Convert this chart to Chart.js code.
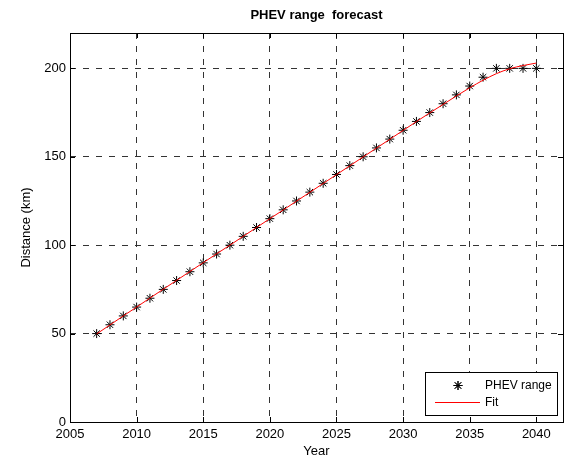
<!DOCTYPE html>
<html>
<head>
<meta charset="utf-8">
<script src="https://cdn.jsdelivr.net/npm/chart.js@4"></script>
<style>
  html, body { margin: 0; padding: 0; background: #fff; }
  #wrap { width: 577px; height: 463px; }
</style>
</head>
<body>
<div id="wrap"><canvas id="c" width="577" height="463"></canvas></div>
<script>
// Yearly PHEV range (km) and the fitted trend curve
const years = [2007, 2008, 2009, 2010, 2011, 2012, 2013, 2014, 2015, 2016, 2017, 2018,
  2019, 2020, 2021, 2022, 2023, 2024, 2025, 2026, 2027, 2028, 2029, 2030, 2031, 2032,
  2033, 2034, 2035, 2036, 2037, 2038, 2039, 2040];
const rangeKm = [50, 55, 60, 65, 70, 75, 80, 85, 90, 95, 100, 105, 110, 115, 120, 125,
  130, 135, 140, 145, 150, 155, 160, 165, 170, 175, 180, 185, 190, 195, 200, 200, 200, 200];
const fitKm = [49.8, 54.9, 60.0, 65.0, 70.1, 75.1, 80.1, 85.1, 90.1, 95.1, 100.0, 105.0,
  110.0, 115.0, 119.9, 124.9, 129.9, 134.9, 139.9, 144.9, 149.9, 154.9, 159.9, 164.9,
  169.9, 174.8, 179.6, 184.4, 189.0, 193.3, 197.0, 199.8, 201.6, 203.0];
const xTicks = [2005, 2010, 2015, 2020, 2025, 2030, 2035, 2040];
const yTicks = [0, 50, 100, 150, 200];

const FONT = "'Liberation Sans', Arial, Helvetica, sans-serif";
Chart.defaults.font.family = FONT;
Chart.defaults.color = '#000';

// Frame, inward tick marks, title and in-plot legend
const decorations = {
  id: 'decorations',
  afterDraw(chart) {
    const { ctx, chartArea: a, scales } = chart;
    ctx.save();
    // axes box
    ctx.strokeStyle = '#000';
    ctx.lineWidth = 1;
    ctx.setLineDash([]);
    ctx.strokeRect(Math.round(a.left) + 0.5, Math.round(a.top) + 0.5,
      Math.round(a.right - a.left), Math.round(a.bottom - a.top));
    // inward ticks on all four sides
    const tl = 5;
    ctx.beginPath();
    xTicks.forEach(v => {
      const x = Math.round(scales.x.getPixelForValue(v)) + 0.5;
      ctx.moveTo(x, a.bottom); ctx.lineTo(x, a.bottom - tl);
      ctx.moveTo(x, a.top); ctx.lineTo(x, a.top + tl);
    });
    yTicks.forEach(v => {
      const y = Math.round(scales.y.getPixelForValue(v)) + 0.5;
      ctx.moveTo(a.left, y); ctx.lineTo(a.left + tl, y);
      ctx.moveTo(a.right, y); ctx.lineTo(a.right - tl, y);
    });
    ctx.stroke();

    // title
    ctx.fillStyle = '#000';
    ctx.font = 'bold 13px ' + FONT;
    ctx.textAlign = 'center';
    ctx.textBaseline = 'middle';
    ctx.fillText('PHEV range  forecast', (a.left + a.right) / 2, 15.5);

    // legend box, lower right corner
    const ds = chart.data.datasets;
    const bx = a.right - 138, by = a.bottom - 50, bw = 132, bh = 43;
    ctx.fillStyle = '#fff';
    ctx.fillRect(bx, by, bw, bh);
    ctx.strokeStyle = '#000';
    ctx.strokeRect(Math.round(bx) + 0.5, Math.round(by) + 0.5, bw, bh);
    const row1 = by + 13.5, row2 = by + 30.5;
    Chart.helpers.drawPoint(ctx, {
      pointStyle: ds[0].pointStyle, radius: ds[0].pointRadius,
      borderWidth: ds[0].borderWidth, rotation: 0
    }, bx + 33, row1);
    ctx.strokeStyle = ds[0].borderColor;
    ctx.stroke();
    ctx.beginPath();
    ctx.strokeStyle = ds[1].borderColor;
    ctx.lineWidth = ds[1].borderWidth;
    ctx.moveTo(bx + 10, row2); ctx.lineTo(bx + 55, row2);
    ctx.stroke();
    ctx.fillStyle = '#000';
    ctx.font = '12px ' + FONT;
    ctx.textAlign = 'left';
    ctx.fillText(ds[0].label, bx + 60, row1);
    ctx.fillText(ds[1].label, bx + 60, row2);
    ctx.restore();
  }
};

new Chart(document.getElementById('c'), {
  type: 'scatter',
  data: {
    datasets: [
      {
        label: 'PHEV range',
        data: years.map((y, i) => ({ x: y, y: rangeKm[i] })),
        showLine: false,
        pointStyle: 'star',
        pointRadius: 4.5,
        borderWidth: 1,
        borderColor: '#000',
        backgroundColor: '#000',
        order: 2
      },
      {
        label: 'Fit',
        data: years.map((y, i) => ({ x: y, y: fitKm[i] })),
        showLine: true,
        pointRadius: 0,
        borderColor: '#ff0000',
        borderWidth: 1,
        tension: 0.4,
        cubicInterpolationMode: 'monotone',
        order: 1
      }
    ]
  },
  options: {
    responsive: false,
    animation: false,
    layout: { padding: { left: 0, right: 14, top: 33, bottom: 0 } },
    plugins: {
      legend: { display: false },
      title: { display: false },
      tooltip: { enabled: false }
    },
    scales: {
      x: {
        type: 'linear',
        min: 2005,
        max: 2042,
        afterBuildTicks: s => { s.ticks = xTicks.map(v => ({ value: v })); },
        afterFit: s => { s.height = 41; },
        grid: { color: '#333', lineWidth: 1, drawTicks: false },
        border: { display: false, dash: [6, 7] },
        ticks: { padding: 5, color: '#000', font: { size: 13 }, autoSkip: false, maxRotation: 0,
          callback: v => String(v) },
        title: { display: true, text: 'Year', color: '#000', font: { size: 13 },
          padding: { top: 0, bottom: 4 } }
      },
      y: {
        type: 'linear',
        min: 0,
        max: 220,
        afterBuildTicks: s => { s.ticks = yTicks.map(v => ({ value: v })); },
        afterFit: s => { s.width = 70; },
        grid: { color: '#333', lineWidth: 1, drawTicks: false },
        border: { display: false, dash: [6, 7] },
        ticks: { padding: 4, color: '#000', font: { size: 13 }, autoSkip: false },
        title: { display: true, text: 'Distance (km)', color: '#000', font: { size: 13 },
          padding: { top: 19, bottom: 0 } }
      }
    }
  },
  plugins: [decorations]
});
</script>
</body>
</html>
